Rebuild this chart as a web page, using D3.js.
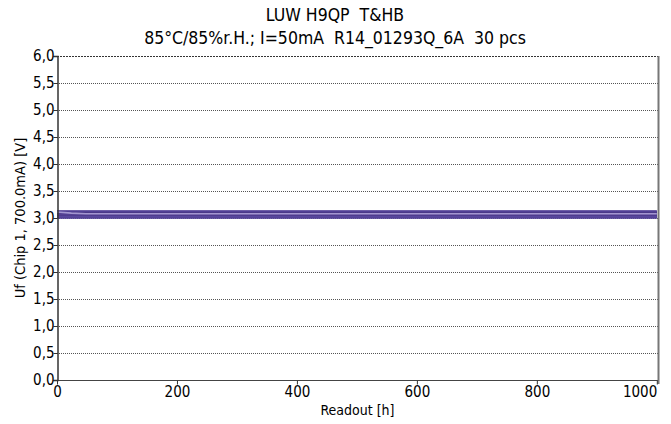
<!DOCTYPE html>
<html><head><meta charset="utf-8">
<script src="https://cdn.jsdelivr.net/npm/d3@7"></script>
<style>
html,body{margin:0;padding:0;background:#fff;}
text{font-family:"DejaVu Sans Condensed","DejaVu Sans",sans-serif;fill:#000;white-space:pre;}
</style></head>
<body><svg id="c" width="671" height="424"></svg>
<script>
const titleLines = ["LUW H9QP  T&HB", "85°C/85%r.H.; I=50mA  R14_01293Q_6A  30 pcs"];
const xLabel = "Readout [h]";
const yLabel = "Uf (Chip 1, 700.0mA) [V]";
const readouts = [0, 24, 48, 96, 168, 336, 500, 672, 1000];
const yTicks = [0,0.5,1,1.5,2,2.5,3,3.5,4,4.5,5,5.5,6];
const xTicks = [0,200,400,600,800,1000];
// 30 devices, forward voltage per readout
const series = [
 [3.11,3.09,3.08,3.08,3.08,3.08,3.08,3.08,3.08],
 [3.13,3.13,3.13,3.13,3.13,3.13,3.13,3.13,3.13],
 [3.12,3.12,3.12,3.12,3.12,3.12,3.12,3.12,3.12],
 [3.12,3.12,3.12,3.12,3.12,3.12,3.12,3.12,3.12],
 [3.11,3.11,3.11,3.11,3.11,3.11,3.11,3.11,3.11],
 [3.11,3.11,3.11,3.11,3.11,3.11,3.11,3.11,3.11],
 [3.10,3.10,3.10,3.10,3.10,3.10,3.10,3.10,3.10],
 [3.10,3.10,3.10,3.10,3.10,3.10,3.10,3.10,3.10],
 [3.09,3.09,3.09,3.09,3.09,3.09,3.09,3.09,3.09],
 [3.09,3.09,3.09,3.09,3.09,3.09,3.09,3.09,3.09],
 [3.08,3.08,3.08,3.08,3.08,3.08,3.08,3.08,3.08],
 [3.08,3.08,3.08,3.08,3.08,3.08,3.08,3.08,3.08],
 [3.07,3.07,3.07,3.07,3.07,3.07,3.07,3.07,3.07],
 [3.07,3.07,3.07,3.07,3.07,3.07,3.07,3.07,3.07],
 [3.06,3.06,3.06,3.06,3.06,3.06,3.06,3.06,3.06],
 [3.06,3.06,3.06,3.06,3.06,3.06,3.06,3.06,3.06],
 [3.05,3.05,3.05,3.05,3.05,3.05,3.05,3.05,3.05],
 [3.05,3.05,3.05,3.05,3.05,3.05,3.05,3.05,3.05],
 [3.04,3.04,3.04,3.04,3.04,3.04,3.04,3.04,3.04],
 [3.04,3.04,3.04,3.04,3.04,3.04,3.04,3.04,3.04],
 [3.03,3.03,3.03,3.03,3.03,3.03,3.03,3.03,3.03],
 [3.03,3.03,3.03,3.03,3.03,3.03,3.03,3.03,3.03],
 [3.02,3.02,3.02,3.02,3.02,3.02,3.02,3.02,3.02],
 [3.02,3.02,3.02,3.02,3.02,3.02,3.02,3.02,3.02],
 [3.01,3.01,3.01,3.01,3.01,3.01,3.01,3.01,3.01],
 [3.01,3.01,3.01,3.01,3.01,3.01,3.01,3.01,3.01],
 [3.00,3.00,3.00,3.00,3.00,3.00,3.00,3.00,3.00],
 [3.10,3.10,3.10,3.10,3.10,3.10,3.10,3.10,3.10],
 [3.07,3.07,3.07,3.07,3.07,3.07,3.07,3.07,3.07],
 [3.05,3.05,3.05,3.05,3.05,3.05,3.05,3.05,3.05]
];
const colors = ["#a396d0","#4a3888","#5a469a","#4e3c8e","#5c48a0","#4a3a8a","#6450a6","#52409a","#46348a","#5a489c"];

const svg = d3.select("#c");
const L = 57, R = 658, T = 56, B = 380;
const x = d3.scaleLinear().domain([0, 1002]).range([L, R]);
const y = d3.scaleLinear().domain([0, 6]).range([B, T]);

// title
svg.selectAll("text.title").data(titleLines).enter().append("text")
  .attr("class","title").attr("x", 335).attr("y",(d,i)=>21+i*23)
  .attr("text-anchor","middle").style("font-size","17.5px").text(d=>d);

// grid
svg.append("g").selectAll("line").data(yTicks.filter(v=>v>0 && v<6)).enter().append("line")
  .attr("x1",L).attr("x2",R).attr("y1",d=>Math.round(y(d))+0.5).attr("y2",d=>Math.round(y(d))+0.5)
  .attr("stroke","#555").attr("stroke-width",1).attr("stroke-dasharray","1,1");

// data lines
const line = d3.line().x((d,i)=>x(readouts[i])).y(d=>y(d));
const order = series.map((s,i)=>i).slice(1).concat([0]);
svg.append("g").selectAll("path").data(order).enter().append("path")
  .attr("d", i=>line(series[i])).attr("fill","none")
  .attr("stroke", i=> i===0 ? colors[0] : colors[1 + (i % 9)])
  .attr("stroke-width", 1.6);

// frame
svg.append("line").attr("x1",L).attr("x2",R).attr("y1",T+0.5).attr("y2",T+0.5).attr("stroke","#333").attr("stroke-dasharray","2,1");
svg.append("line").attr("x1",L).attr("x2",R).attr("y1",B+0.5).attr("y2",B+0.5).attr("stroke","#444");
svg.append("line").attr("x1",R+0.5).attr("x2",R+0.5).attr("y1",T).attr("y2",B+4).attr("stroke","#777").attr("stroke-width",2);

// axes
const yAxis = d3.axisLeft(y).tickValues(yTicks).tickSize(4).tickFormat(d=>d3.format(".1f")(d).replace(".",","));
const gy = svg.append("g").attr("transform",`translate(${L+0.5},0)`).call(yAxis);
gy.select(".domain").attr("stroke","#333").attr("stroke-width",1.5);
gy.selectAll(".tick line").attr("stroke","#333");
gy.selectAll("text").style("font-size","15px").attr("fill","#000").attr("x",-3).attr("dy","0.3em");

const xAxis = d3.axisBottom(x).tickValues(xTicks).tickSize(4).tickFormat(d3.format("d"));
const gx = svg.append("g").attr("transform",`translate(0,${B+0.5})`).call(xAxis);
gx.select(".domain").remove();
gx.selectAll(".tick line").attr("stroke","#333");
gx.selectAll("text").style("font-size","15px").attr("fill","#000").attr("y",3).attr("dy","0.9em");
gx.selectAll(".tick").filter(d=>d===1000).select("text").attr("text-anchor","end").attr("x",0);

svg.append("text").attr("x",(L+R)/2).attr("y",415).attr("text-anchor","middle").style("font-size","14px").text(xLabel);
svg.append("text").attr("transform",`translate(25,${(T+B)/2}) rotate(-90)`).attr("text-anchor","middle").style("font-size","14.5px").text(yLabel);
</script></body></html>
